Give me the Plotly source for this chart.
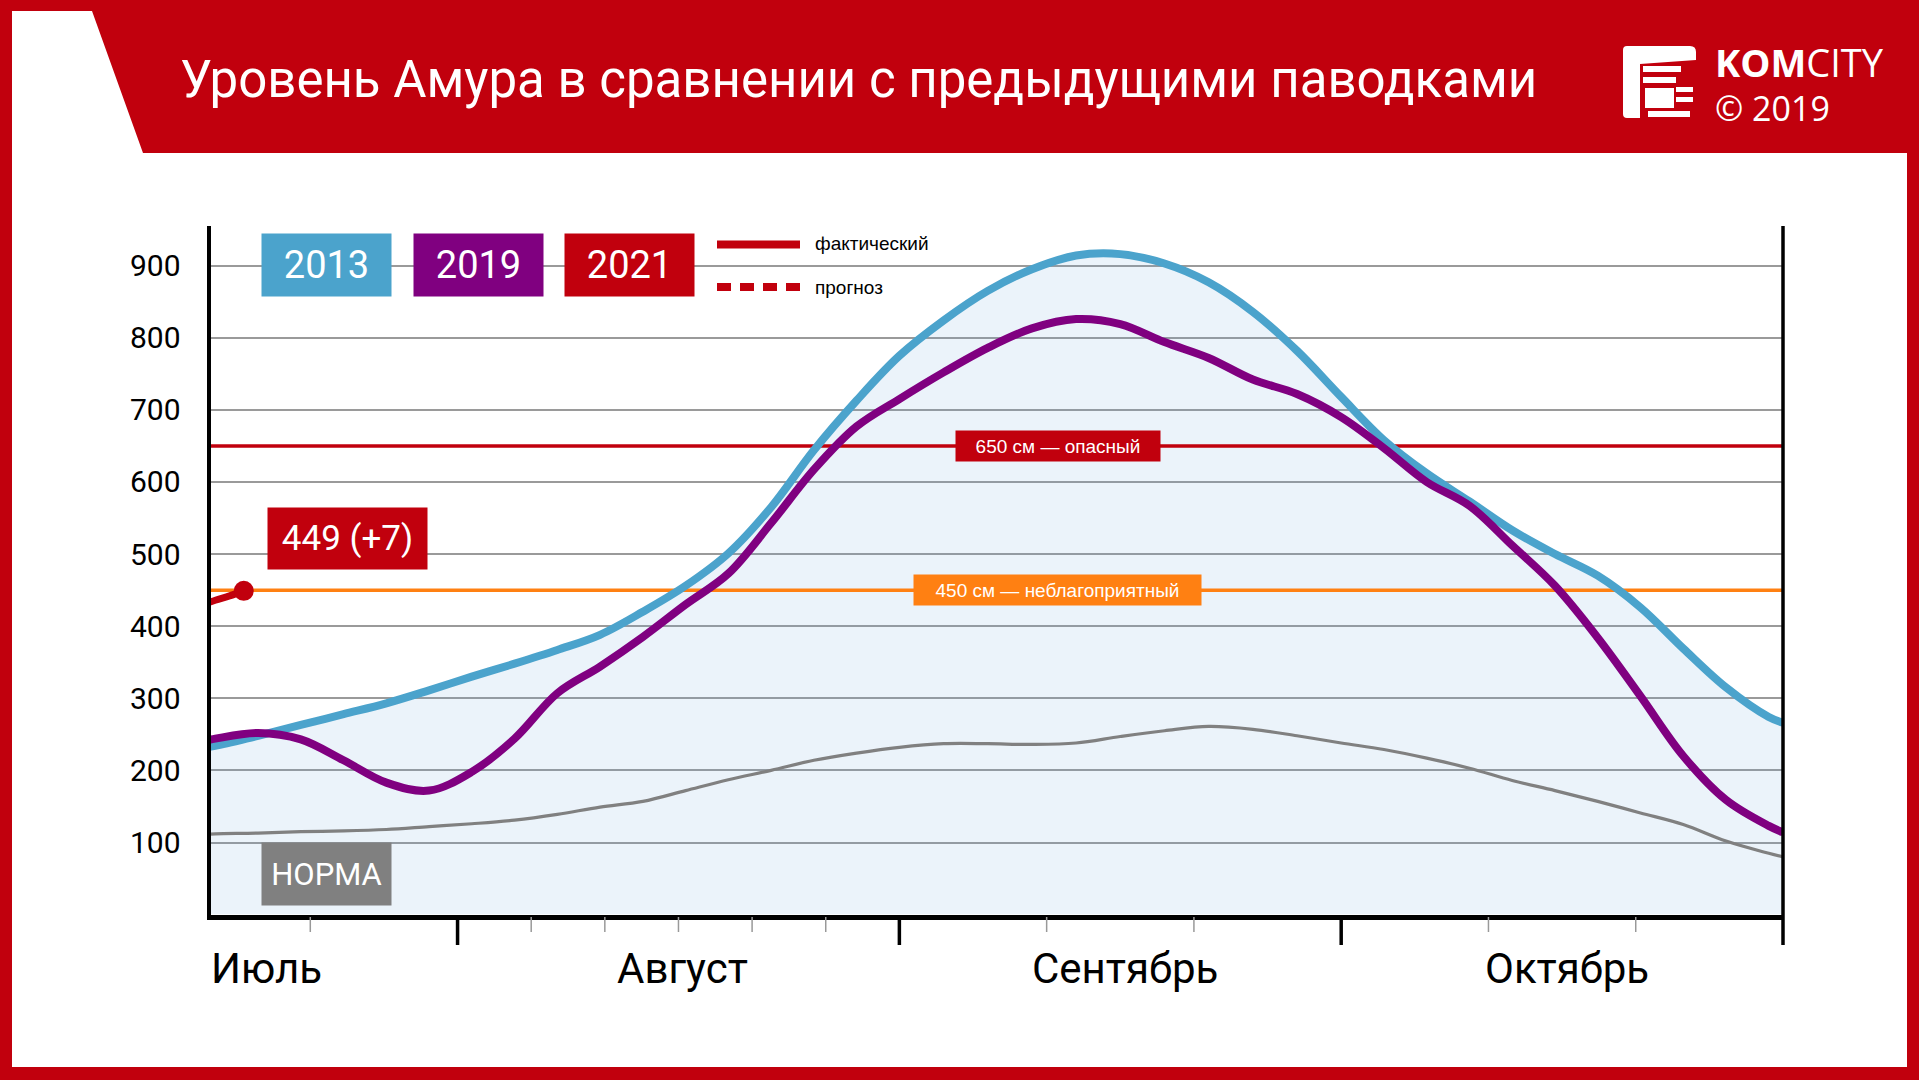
import plotly.graph_objects as go

# ---------------- data ----------------
dates = ["14.07", "15.07", "18.07", "21.07", "24.07", "27.07", "30.07",
         "02.08", "05.08", "08.08", "11.08", "14.08", "17.08", "20.08", "23.08", "26.08", "29.08",
         "01.09", "04.09", "07.09", "10.09", "13.09", "16.09", "19.09", "22.09", "25.09", "28.09",
         "01.10", "04.10", "07.10", "10.10", "13.10", "16.10", "19.10", "22.10", "25.10", "28.10",
         "31.10", "01.11"]
level_2013 = [232, 234, 248, 263, 278, 293, 311,
              330, 348, 367, 388, 420, 456, 501, 565, 644, 713,
              775, 824, 865, 895, 914, 916, 903, 877, 836, 782,
              718, 658, 612, 573, 533, 500, 470, 426, 369, 315,
              274, 266]
level_2019 = [240, 244, 252, 243, 214, 183, 172,
              198, 244, 307, 344, 385, 430, 473, 543, 617, 677,
              715, 752, 786, 813, 826, 819, 794, 772, 742, 722,
              690, 647, 600, 567, 512, 456, 384, 303, 220, 159,
              123, 114]
level_norm = [111, 112, 113, 115, 116, 118, 122,
              126, 131, 139, 149, 157, 172, 187, 200, 214, 224,
              232, 237, 237, 236, 238, 247, 255, 261, 257, 248,
              238, 229, 217, 203, 186, 172, 157, 141, 125, 102,
              85, 80]
dates_2021 = ["14.07", "15.07", "16.07", "17.07"]
level_2021 = [429, 436, 442, 449]

y_ticks = [100, 200, 300, 400, 500, 600, 700, 800, 900]
months = ["Июль", "Август", "Сентябрь", "Октябрь"]
danger_level, danger_text = 650, "650 см — опасный"
warn_level, warn_text = 450, "450 см — неблагоприятный"
last_text = "449 (+7)"
title_text = "Уровень Амура в сравнении с предыдущими паводками"

# ---------------- helpers ----------------
W, H = 1919, 1080
RED = "#C1000D"
BLUE = "#4BA3CC"
PURPLE = "#800080"
ORANGE = "#FF8012"
GRAY = "#808080"
NARROW = "Roboto, Liberation Sans, sans-serif"
REG = "Liberation Sans, Arial, sans-serif"


def mpos(d):
    day, mon = map(int, d.split("."))
    dim = {7: 31, 8: 31, 9: 30, 10: 31, 11: 30}[mon]
    return (mon - 7) + (day - 1) / dim


def px(x):
    return x / W


def py(y):
    return 1 - y / H


xs = [mpos(d) for d in dates]
xs21 = [mpos(d) for d in dates_2021]

X0, X1 = 210.5, 1783.0      # plot area pixel bounds
Y_TOP, Y_BOT = 226.0, 914.6
XR = [0.4408, 4.0]
YR = [0, 955]

fig = go.Figure()

# fill under 2013
fig.add_trace(go.Scatter(x=xs, y=level_2013, mode="lines", line=dict(width=0, shape="spline"),
                         fill="tozeroy", fillcolor="rgba(100,160,220,0.13)", hoverinfo="skip",
                         showlegend=False))
# threshold lines
fig.add_trace(go.Scatter(x=XR, y=[danger_level] * 2, mode="lines",
                         line=dict(color=RED, width=3.5), showlegend=False))
fig.add_trace(go.Scatter(x=XR, y=[warn_level] * 2, mode="lines",
                         line=dict(color=ORANGE, width=3.5), showlegend=False))
# curves
fig.add_trace(go.Scatter(x=xs, y=level_norm, mode="lines",
                         line=dict(color=GRAY, width=3.2, shape="spline"), showlegend=False))
fig.add_trace(go.Scatter(x=xs, y=level_2013, mode="lines",
                         line=dict(color=BLUE, width=8, shape="spline"), showlegend=False))
fig.add_trace(go.Scatter(x=xs, y=level_2019, mode="lines",
                         line=dict(color=PURPLE, width=8, shape="spline"), showlegend=False))
fig.add_trace(go.Scatter(x=xs21, y=level_2021, mode="lines",
                         line=dict(color=RED, width=7, shape="spline"), showlegend=False))
fig.add_trace(go.Scatter(x=xs21[-1:], y=level_2021[-1:], mode="markers",
                         marker=dict(color=RED, size=20, line=dict(width=0), opacity=1),
                         showlegend=False))

shapes = []
# white body with slanted notch at top-left
shapes.append(dict(type="path", xref="paper", yref="paper", layer="below",
                   path=f"M {px(12)},{py(11)} L {px(92)},{py(11)} L {px(143)},{py(153)} "
                        f"L {px(1907)},{py(153)} L {px(1907)},{py(1067)} L {px(12)},{py(1067)} Z",
                   fillcolor="white", line=dict(width=0)))
# right vertical line
shapes.append(dict(type="line", xref="paper", yref="paper", x0=px(X1), x1=px(X1),
                   y0=py(Y_TOP), y1=py(945), line=dict(color="black", width=3.5)))
# major ticks
for m in [1, 2, 3]:
    shapes.append(dict(type="line", xref="x", yref="paper", x0=m, x1=m, y0=py(916), y1=py(945),
                       line=dict(color="black", width=3.5)))
# minor ticks
minor = [2 / 3] + [1 + k / 6 for k in range(1, 6)] + [2 + 1 / 3, 2 + 2 / 3, 3 + 1 / 3, 3 + 2 / 3]
for m in minor:
    shapes.append(dict(type="line", xref="x", yref="paper", x0=m, x1=m, y0=py(917), y1=py(932),
                       line=dict(color="#999999", width=1.5)))
# legend lines
shapes.append(dict(type="line", xref="paper", yref="paper", x0=px(717), x1=px(800),
                   y0=py(244.5), y1=py(244.5), line=dict(color=RED, width=8)))
shapes.append(dict(type="line", xref="paper", yref="paper", x0=px(717), x1=px(800),
                   y0=py(287), y1=py(287), line=dict(color=RED, width=8, dash="14px,9px")))
# logo icon
shapes.append(dict(type="path", xref="paper", yref="paper",
                   path=f"M {px(1627)},{py(46)} L {px(1690)},{py(46)} Q {px(1696)},{py(46)} {px(1696)},{py(52)} "
                        f"L {px(1696)},{py(60)} L {px(1640)},{py(64)} L {px(1640)},{py(118)} "
                        f"L {px(1627)},{py(118)} Q {px(1623)},{py(118)} {px(1623)},{py(114)} "
                        f"L {px(1623)},{py(50)} Q {px(1623)},{py(46)} {px(1627)},{py(46)} Z",
                   fillcolor="white", line=dict(width=0)))
for (a, b, c, d) in [(1643, 1681, 66, 72), (1643, 1676, 77, 83), (1645, 1674, 88, 108),
                     (1676, 1693, 87, 92), (1676, 1693, 97, 102), (1648, 1690, 111, 117)]:
    shapes.append(dict(type="rect", xref="paper", yref="paper", x0=px(a), x1=px(b),
                       y0=py(c), y1=py(d), fillcolor="white", line=dict(width=0)))

ann = []
# title
ann.append(dict(text=title_text, xref="paper", yref="paper", x=px(178), y=py(79),
                xanchor="left", yanchor="middle", showarrow=False,
                font=dict(family=NARROW, size=51, color="white")))
# logo text (one block, two lines)
ann.append(dict(text='<span style="font-size:38px"><b>KOM</b>CITY</span><br>© 2019',
                xref="paper", yref="paper", x=px(1713), y=py(84),
                xanchor="left", yanchor="middle", align="left", showarrow=False,
                font=dict(family="Open Sans, sans-serif", size=34, color="white")))
# legend boxes
for label, col, cx in [("2013", BLUE, 326), ("2019", PURPLE, 478.5), ("2021", RED, 629.7)]:
    ann.append(dict(text=label, xref="paper", yref="paper", x=px(cx), y=py(265),
                    xanchor="center", yanchor="middle", showarrow=False, bgcolor=col,
                    width=129, height=62, borderpad=0,
                    font=dict(family=NARROW, size=38, color="white")))
ann.append(dict(text="фактический", xref="paper", yref="paper", x=px(813), y=py(244),
                xanchor="left", yanchor="middle", showarrow=False,
                font=dict(family=REG, size=19, color="black")))
ann.append(dict(text="прогноз", xref="paper", yref="paper", x=px(813), y=py(287),
                xanchor="left", yanchor="middle", showarrow=False,
                font=dict(family=REG, size=19, color="black")))
# threshold labels
ann.append(dict(text=danger_text, xref="x", yref="y", x=2.359, y=danger_level,
                xanchor="center", yanchor="middle", showarrow=False, bgcolor=RED,
                width=204, height=30, borderpad=0,
                font=dict(family=REG, size=19, color="white")))
ann.append(dict(text=warn_text, xref="x", yref="y", x=2.359, y=warn_level,
                xanchor="center", yanchor="middle", showarrow=False, bgcolor=ORANGE,
                width=287, height=30, borderpad=0,
                font=dict(family=REG, size=19, color="white")))
# current value label
ann.append(dict(text=last_text, xref="paper", yref="paper", x=px(347.5), y=py(538.5),
                xanchor="center", yanchor="middle", showarrow=False, bgcolor=RED,
                width=159, height=61, borderpad=0,
                font=dict(family=NARROW, size=35, color="white")))
# norm label
ann.append(dict(text="НОРМА", xref="paper", yref="paper", x=px(326), y=py(874),
                xanchor="center", yanchor="middle", showarrow=False, bgcolor=GRAY,
                width=129, height=62, borderpad=0,
                font=dict(family=NARROW, size=31, color="white")))
# month labels
ann.append(dict(text=months[0], xref="paper", yref="paper", x=px(X0 - 2), y=py(968),
                xanchor="left", yanchor="middle", showarrow=False,
                font=dict(family=NARROW, size=42, color="black")))
for i, name in enumerate(months[1:], start=1):
    ann.append(dict(text=name, xref="x", yref="paper", x=i + 0.5 + 0.01, y=py(968),
                    xanchor="center", yanchor="middle", showarrow=False,
                    font=dict(family=NARROW, size=42, color="black")))

fig.update_layout(
    width=W, height=H, margin=dict(l=0, r=0, t=0, b=0),
    paper_bgcolor=RED, plot_bgcolor="rgba(0,0,0,0)",
    showlegend=False, shapes=shapes, annotations=ann,
    xaxis=dict(domain=[px(X0), px(X1)], range=XR, showgrid=False, zeroline=False,
               showticklabels=False, ticks="", showline=True, linecolor="black", linewidth=4.5,
               fixedrange=True),
    yaxis=dict(domain=[py(Y_BOT), py(Y_TOP)], range=YR, tickvals=y_ticks,
               ticktext=[str(v) for v in y_ticks], showgrid=True, gridcolor="#9a9a9a",
               gridwidth=1.6, zeroline=False, showline=True, linecolor="black", linewidth=4,
               ticks="", ticklabelstandoff=20,
               tickfont=dict(family=NARROW, size=30, color="black"), fixedrange=True),
)

fig.write_html("out.html", config={"displayModeBar": False},
               post_script="document.body.style.margin='0px';document.body.style.overflow='hidden';")
